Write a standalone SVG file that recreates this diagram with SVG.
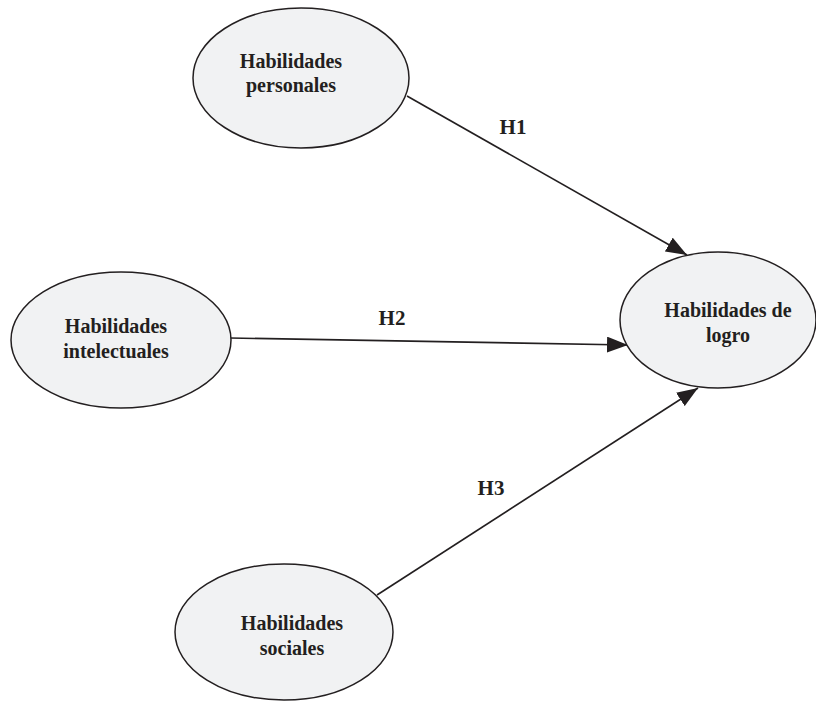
<svg xmlns="http://www.w3.org/2000/svg" width="816" height="701" viewBox="0 0 816 701">
<style>
.node ellipse{fill:#f1f2f3;stroke:#231f20;stroke-width:1.5}
.node text,.lbl{font-family:"Liberation Serif","Times New Roman",serif;font-weight:bold;font-size:20px;fill:#231f20;text-anchor:middle}
.lbl{font-size:21px}
.conn line{stroke:#231f20;stroke-width:1.6;fill:none}
</style>
<defs>
<marker id="arr" markerUnits="userSpaceOnUse" markerWidth="22" markerHeight="16" refX="21" refY="8" orient="auto">
<path d="M0,0 L21,8 L0,16 z" fill="#231f20"/>
</marker>
</defs>
<rect width="816" height="701" fill="#ffffff"/>
<g id="connectors" class="conn">
<line x1="407" y1="96" x2="687" y2="255" marker-end="url(#arr)"/>
<line x1="230" y1="338" x2="628" y2="345" marker-end="url(#arr)"/>
<line x1="377" y1="595" x2="698" y2="388" marker-end="url(#arr)"/>
<text class="lbl" x="513" y="134">H1</text>
<text class="lbl" x="392" y="325">H2</text>
<text class="lbl" x="491" y="495">H3</text>
</g>
<g id="personales" class="node">
<ellipse cx="301" cy="78" rx="108" ry="70"/>
<text x="291" y="68">Habilidades</text>
<text x="291" y="92">personales</text>
</g>
<g id="intelectuales" class="node">
<ellipse cx="121" cy="340" rx="110" ry="68"/>
<text x="116" y="333">Habilidades</text>
<text x="116" y="358">intelectuales</text>
</g>
<g id="logro" class="node">
<ellipse cx="718" cy="320" rx="98" ry="68"/>
<text x="728" y="317">Habilidades de</text>
<text x="728" y="342">logro</text>
</g>
<g id="sociales" class="node">
<ellipse cx="284" cy="632" rx="109" ry="68"/>
<text x="292" y="630">Habilidades</text>
<text x="292" y="655">sociales</text>
</g>
</svg>
